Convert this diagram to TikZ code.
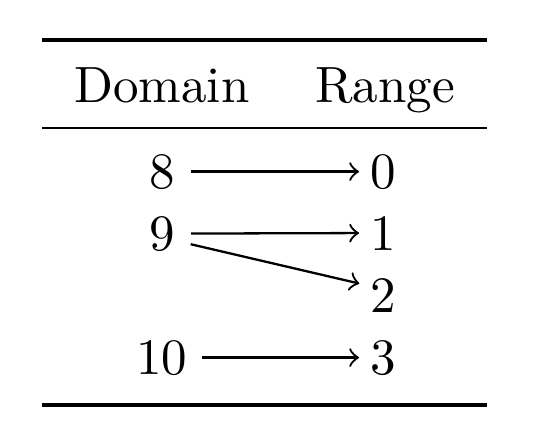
\documentclass[tikz,border=0pt]{standalone}
\begin{document}
\begin{tikzpicture}[x=0.1961pt,y=-0.1961pt,
  num/.style={inner sep=0pt, anchor=base},
  arr/.style={->, line width=0.45pt, shorten <=3pt, shorten >=2pt},
  heavyrule/.style={line width=0.8pt},
  lightrule/.style={line width=0.5pt}]
\useasboundingbox (0,0) rectangle (539,444);
\coordinate (tl) at (42,40); \coordinate (tr) at (487,40);
\coordinate (ml) at (42,128); \coordinate (mr) at (487,128);
\coordinate (bl) at (42,405); \coordinate (br) at (487,405);
\draw[heavyrule] (tl) -- (tr);
\draw[lightrule] (ml) -- (mr);
\draw[heavyrule] (bl) -- (br);
\node[num] (hd) at (162,102) {Domain};
\node[num] (hr) at (385,102) {Range};
\node[num] (d8) at (162,188) {8};
\node[num] (d9) at (162,250) {9};
\node[num] (d10) at (162,374) {10};
\node[num] (r0) at (383,188) {0};
\node[num] (r1) at (383,250) {1};
\node[num] (r2) at (383,312) {2};
\node[num] (r3) at (383,374) {3};
\draw[arr] (d8.east) -- (r0.west);
\draw[arr] (d9.east) -- (r1.west);
\draw[arr] ([yshift=-1.4pt]d9.east) -- ([yshift=1.8pt]r2.west);
\draw[arr, shorten <=2.6pt] (d10.east) -- (r3.west);
\end{tikzpicture}
\end{document}
